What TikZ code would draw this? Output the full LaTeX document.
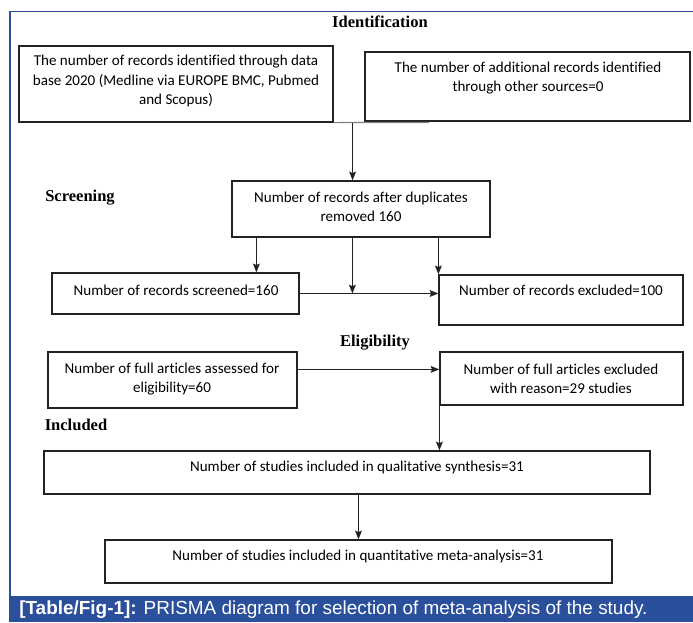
\documentclass[tikz,border=0pt]{standalone}
\usepackage{fontspec}
\usetikzlibrary{arrows.meta,positioning,fit}
\newfontfamily\boxfont{Carlito}[Ligatures=NoCommon]
\newfontfamily\headfont{Liberation Serif}
\newfontfamily\capfont{Liberation Sans}
\definecolor{frame}{HTML}{2A4F9B}
\definecolor{edge}{HTML}{222222}
\tikzset{
    %Define standard arrow tip
    >={Stealth[length=6.5pt,width=5pt,inset=1pt]},
    %Define style for boxes
    record/.style={
        rectangle,
        draw=edge, line width=0.9pt,
        fill=white,
        inner sep=0pt
    },
    recordtext/.style={
        align=center,
        font=\boxfont\fontsize{11.3}{14.4}\selectfont,
        inner sep=0pt
    },
    % Define style for stage titles
    stage/.style={
        anchor=base,
        font=\headfont\bfseries\fontsize{12.4}{14}\selectfont,
        inner sep=0pt
    },
    % Define arrow style
    pil/.style={
        ->,
        line width=1.1pt,
        draw=edge}
}

\begin{document}
\begin{tikzpicture}[x=0.75pt,y=-0.75pt]
    \useasboundingbox (0,0) rectangle (693,622);
    %frame and caption
    \fill[frame] (9,596) rectangle (693,622);
    \draw[frame, line width=0.8pt] (10,596) -- (10,11.7) -- (693,11.7);
    \node[font=\capfont\fontsize{14.2}{16}\selectfont, text=white, anchor=west, inner sep=0pt] (cap) at (19,610)
        {\textbf{[Table/Fig-1]:} PRISMA diagram for selection of meta-analysis of the study.};
    %stages
    \node[stage] (ident) at (380,27.5) {Identification};
    \node[stage] (screen) at (80,201.5) {Screening};
    \node[stage] (elig) at (375,346) {Eligibility};
    \node[stage] (incl) at (76,430) {Included};
    %boxes
    \node[record, fit={(19,46) (333,122)}] (db) {};
    \node[record, fit={(365,52) (690,121)}] (other) {};
    \node[record, fit={(232,181) (490,237)}] (dup) {};
    \node[record, fit={(52,273) (299,314)}] (scr) {};
    \node[record, fit={(439,275) (683,325)}] (exc) {};
    \node[record, fit={(48,352) (297,408)}] (full) {};
    \node[record, fit={(440,352) (683,405)}] (fex) {};
    \node[record, fit={(44,451) (650,494)}] (qual) {};
    \node[record, fit={(105,540) (612,583)}] (quant) {};
    %texts
    \node[recordtext] (dbT) at (176,81) {The number of records identified through data\\ base 2020 (Medline via EUROPE BMC, Pubmed\\ and Scopus)};
    \node[recordtext] (otherT) at (528,78) {The number of additional records identified\\ through other sources=0};
    \node[recordtext] (dupT) at (361,207) {Number of records after duplicates\\ removed 160};
    \node[recordtext] (scrT) at (176,290) {Number of records screened=160};
    \node[recordtext] (excT) at (561,290) {Number of records excluded=100};
    \node[recordtext] (fullT) at (172,379) {Number of full articles assessed for\\ eligibility=60};
    \node[recordtext] (fexT) at (561,379) {Number of full articles excluded\\ with reason=29 studies};
    \node[recordtext] (qualT) at (357,467) {Number of studies included in qualitative synthesis=31};
    \node[recordtext] (quantT) at (358,556) {Number of studies included in quantitative meta-analysis=31};
    %connectors
    \coordinate (join) at (429,122.5);
    \draw[gray, line width=0.9pt] (db.south east) -- (join);
    \draw[pil] (db.south east) ++(19,0) coordinate (j) -- (j |- dup.north);
    \draw[pil] (dup.south west) ++(25,0) coordinate (d1) -- (d1 |- scr.north);
    \draw[pil] (dup.south west) ++(121,0) coordinate (d2) -- (d2 |- scr.east);
    \draw[pil] (exc.north west |- dup.south) -- (exc.north west);
    \draw[pil] (scr.east) -- (scr.east -| exc.west);
    \draw[pil] (full.north east) ++(0,18) coordinate (f1) -- (f1 -| fex.west);
    \draw[pil] (fex.south west) -- (fex.south west |- qual.north);
    \draw[pil] (quant.north |- qual.south) -- (quant.north);
\end{tikzpicture}
\end{document}
